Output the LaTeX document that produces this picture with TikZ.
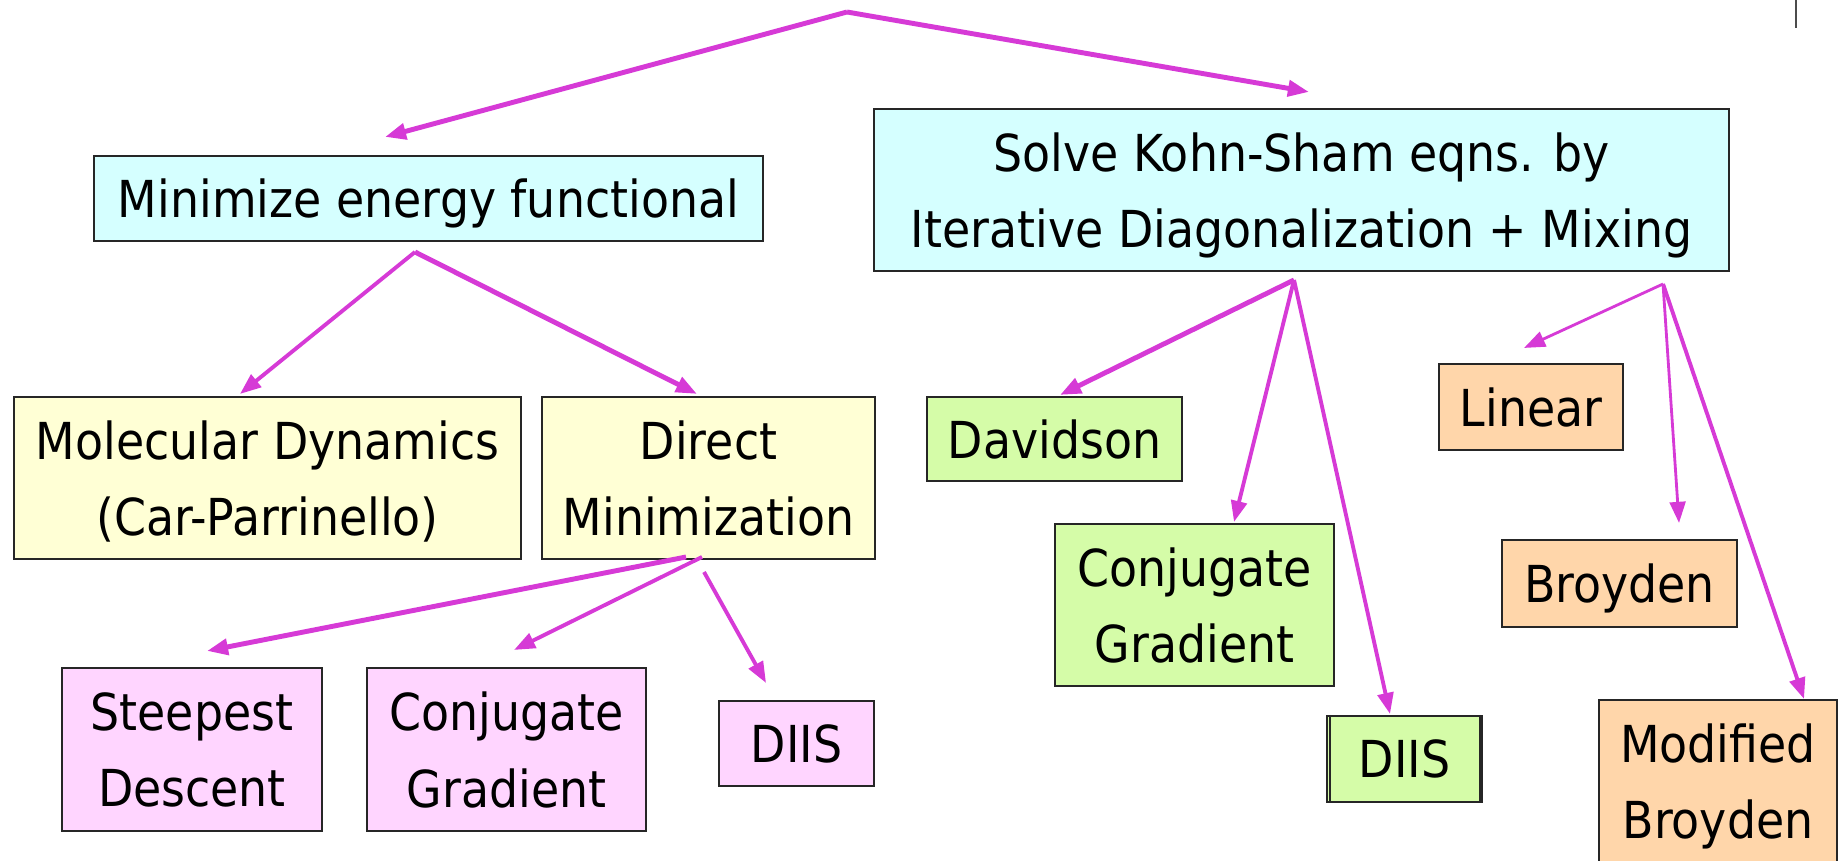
\documentclass[tikz,border=0pt]{standalone}
\usepackage{fontspec}
\setmainfont{DejaVu Sans}[FakeStretch=0.9]
\usetikzlibrary{arrows.meta, calc}
\definecolor{flowmag}{RGB}{214, 58, 214}
\definecolor{boxcyan}{RGB}{213, 255, 255}
\definecolor{boxyellow}{RGB}{255, 255, 213}
\definecolor{boxpink}{RGB}{255, 213, 255}
\definecolor{boxgreen}{RGB}{213, 252, 168}
\definecolor{boxpeach}{RGB}{255, 214, 170}

\begin{document}
\begin{tikzpicture}[
  box/.style={draw=black!85, line width=0.6pt, align=center, inner sep=0pt, text depth=0pt,
    font=\fontsize{14.5}{21.8}\selectfont},
  flow/.style={-{Triangle[length=6pt, width=4.5pt]}, line width=1.4pt, flowmag},
  flowmid/.style={flow, line width=1.1pt},
  flowthin/.style={flow, line width=0.8pt},
]
  \useasboundingbox (0,0) rectangle (18.4,8.6);

  % two routes to the ground state
  \node[box, fill=boxcyan, minimum width=6.69cm, minimum height=0.85cm] (min) at (4.285, 6.615) {Minimize energy functional};
  \node[box, fill=boxcyan, minimum width=8.55cm, minimum height=1.62cm] (ks) at (13.015, 6.70) {Solve Kohn-Sham eqns. by\\Iterative Diagonalization + Mixing};

  % energy minimization branch
  \node[box, fill=boxyellow, minimum width=5.07cm, minimum height=1.62cm] (md) at (2.675, 3.82) {Molecular Dynamics\\(Car-Parrinello)};
  \node[box, fill=boxyellow, minimum width=3.33cm, minimum height=1.62cm] (dm) at (7.085, 3.82) {Direct\\Minimization};
  \node[box, fill=boxpink, minimum width=2.60cm, minimum height=1.63cm] (sd) at (1.92, 1.105) {Steepest\\Descent};
  \node[box, fill=boxpink, minimum width=2.79cm, minimum height=1.63cm] (cgp) at (5.065, 1.105) {Conjugate\\Gradient};
  \node[box, fill=boxpink, minimum width=1.55cm, minimum height=0.85cm] (diisp) at (7.965, 1.165) {DIIS};

  % diagonalization
  \node[box, fill=boxgreen, minimum width=2.55cm, minimum height=0.84cm] (dav) at (10.545, 4.21) {Davidson};
  \node[box, fill=boxgreen, minimum width=2.79cm, minimum height=1.62cm] (cgg) at (11.945, 2.55) {Conjugate\\Gradient};
  \node[box, fill=boxgreen, minimum width=1.55cm, minimum height=0.86cm] (diisg) at (14.045, 1.01) {DIIS};
  \draw[black!85, line width=0.6pt] ([xshift=0.04cm]diisg.north west) -- ([xshift=0.04cm]diisg.south west);
  \draw[black!85, line width=0.6pt] ([xshift=-0.03cm]diisg.north east) -- ([xshift=-0.03cm]diisg.south east);

  % mixing
  \node[box, fill=boxpeach, minimum width=1.84cm, minimum height=0.86cm] (lin) at (15.31, 4.53) {Linear};
  \node[box, fill=boxpeach, minimum width=2.35cm, minimum height=0.87cm] (bro) at (16.195, 2.765) {Broyden};
  \node[box, fill=boxpeach, minimum width=2.38cm, minimum height=1.62cm] (mbro) at (17.18, 0.79) {Modified\\Broyden};

  % fork points
  \coordinate (apex) at (8.47, 8.48);
  \coordinate (minfork) at (4.15, 6.08);
  \coordinate (dmleft) at (6.86, 3.03);
  \coordinate (dmfork) at (7.02, 3.03);
  \coordinate (dmdiis) at (7.04, 2.88);
  \coordinate (ksfork) at (12.94, 5.80);
  \coordinate (mixfork) at (16.63, 5.76);

  \draw[flow] (apex) -- ([shift={(-0.435,0.18)}]min.north);
  \draw[flow] (apex) -- ([shift={(0.075,0.16)}]ks.north);

  \draw[flowmid] (minfork) -- ([shift={(-0.275,0.02)}]md.north);
  \draw[flow] (minfork) -- ([shift={(-0.115,0.02)}]dm.north);
  \draw[flow] (dmleft) -- ([shift={(0.15,0.16)}]sd.north);
  \draw[flowmid] (dmfork) -- ([shift={(0.075,0.17)}]cgp.north);
  \draw[flowmid] (dmdiis) -- ([shift={(-0.305,0.17)}]diisp.north);

  \draw[flow] (ksfork) -- ([shift={(0.055,0.01)}]dav.north);
  \draw[flowmid] (ksfork) -- ([shift={(0.395,0.01)}]cgg.north);
  \draw[flowmid] (ksfork) -- ([shift={(-0.145,0.01)}]diisg.north);

  \draw[flowthin] (mixfork) -- ([shift={(-0.07,0.15)}]lin.north);
  \draw[flowthin] (mixfork) -- ([shift={(0.595,0.16)}]bro.north);
  \draw[flowmid] (mixfork) -- ([shift={(0.86,0)}]mbro.north);

  \draw[gray!60!black, line width=0.4pt] (17.96, 8.6) -- (17.96, 8.32);
\end{tikzpicture}
\end{document}
